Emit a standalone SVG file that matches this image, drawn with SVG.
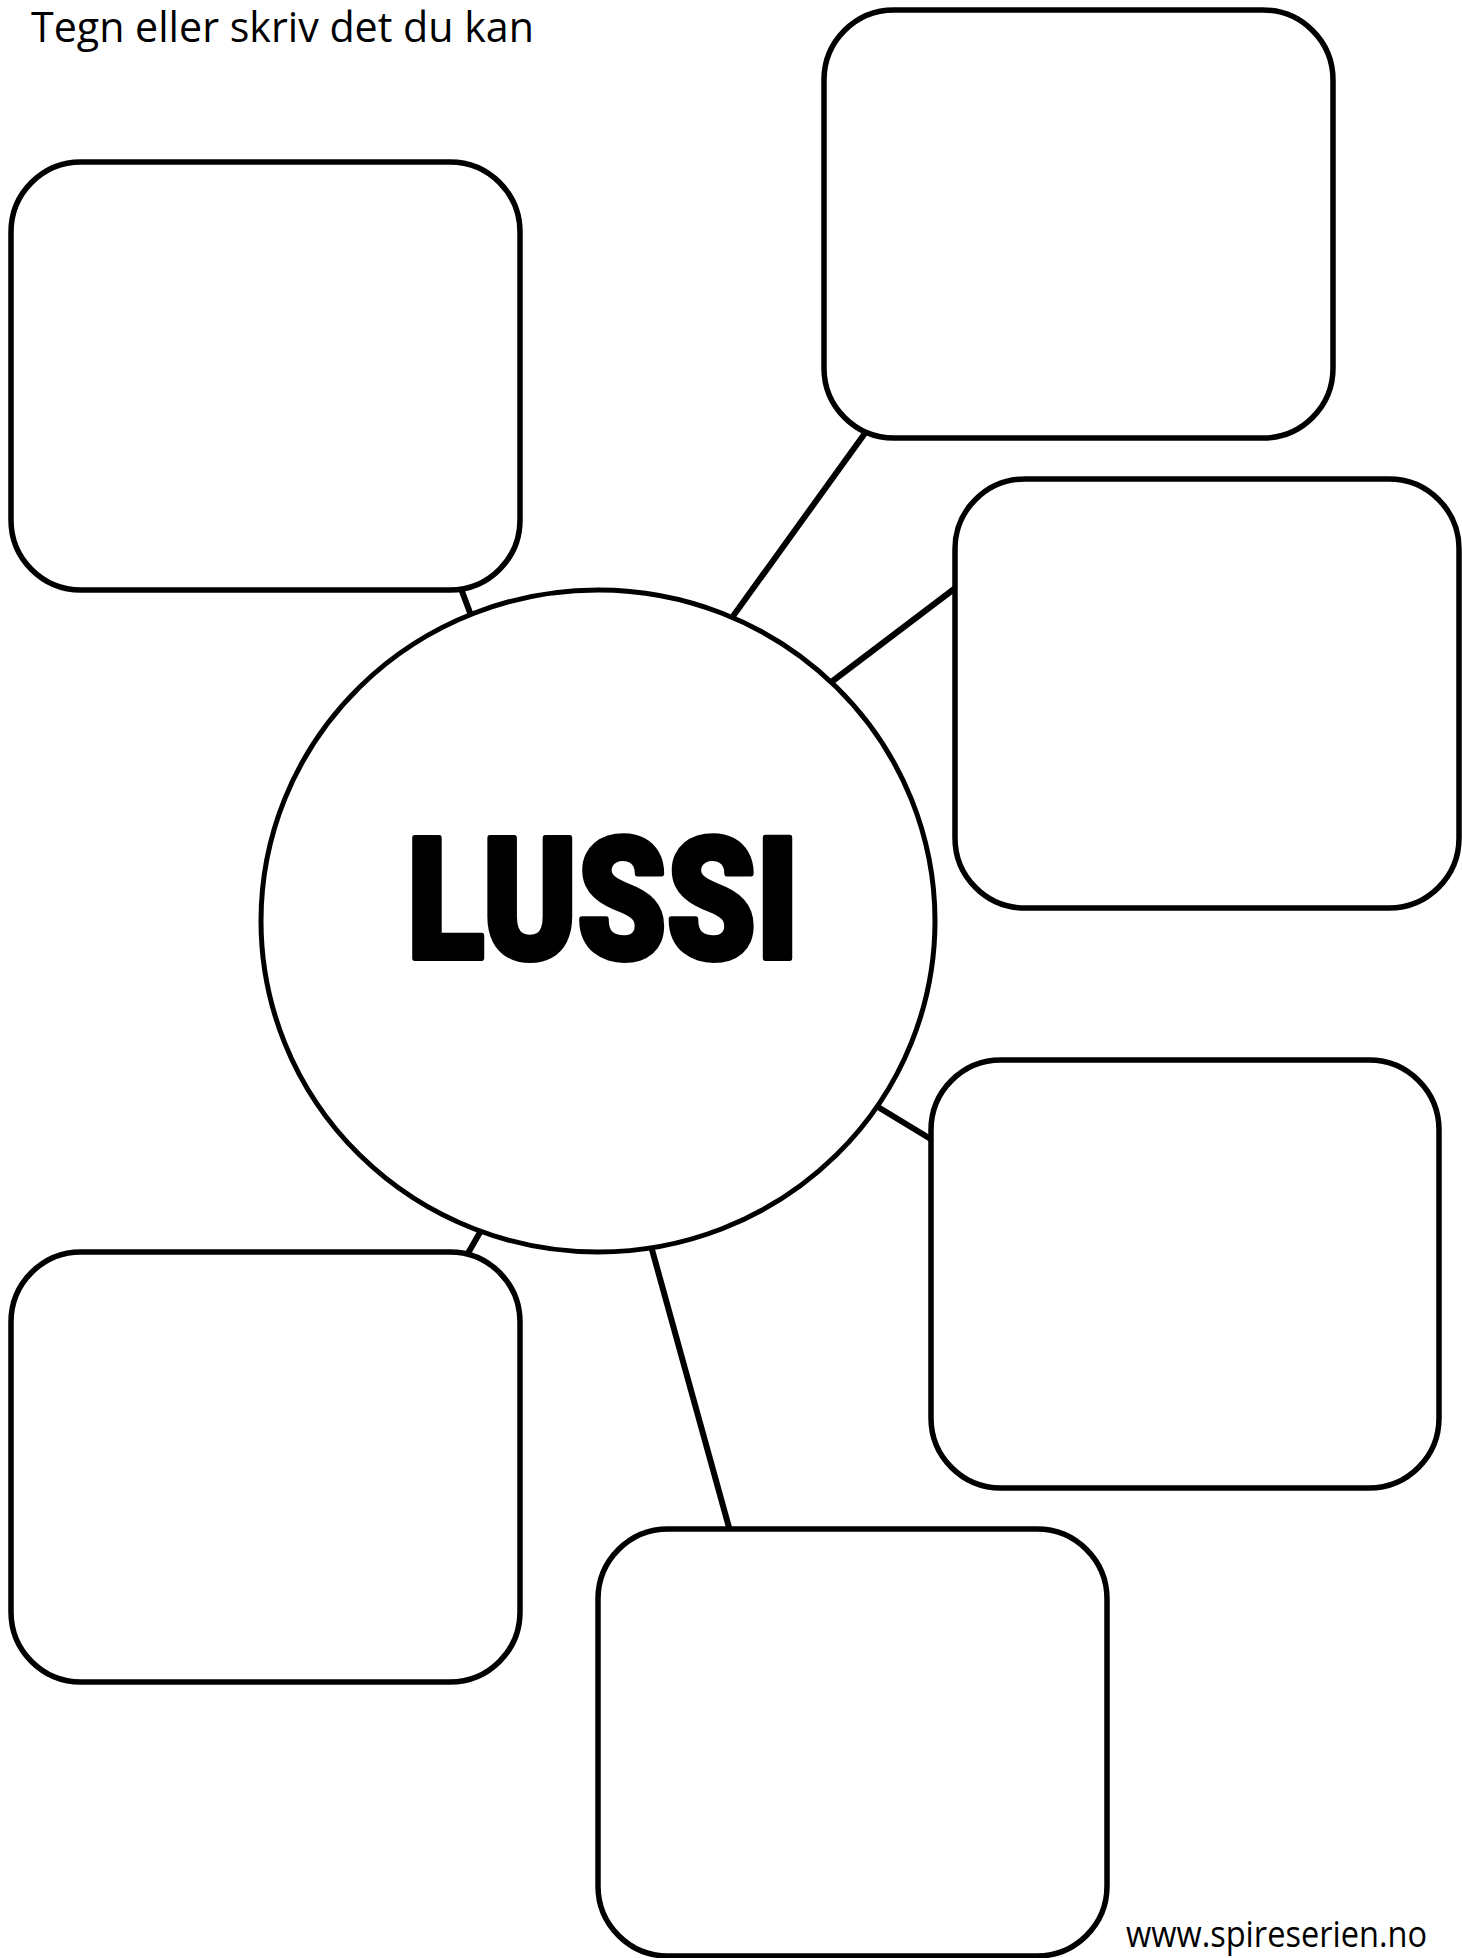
<svg xmlns="http://www.w3.org/2000/svg" width="1462" height="1958" viewBox="0 0 1462 1958">
<style>
.box{fill:#fff;stroke:#000;stroke-width:5.5}
.conn line{stroke:#000;stroke-width:6;stroke-linecap:butt}
.hub{fill:#fff;stroke:#000;stroke-width:5}
.title{font-family:"Open Sans","Liberation Sans",sans-serif;font-size:42px;fill:#000}
.foot{font-family:"Open Sans","Liberation Sans",sans-serif;font-size:36px;fill:#000}
.lussi{font-family:"Roboto","Liberation Sans",sans-serif;font-weight:900;font-size:168px;fill:#000;stroke:#000;stroke-width:6;stroke-linejoin:round}
</style>
<rect width="1462" height="1958" fill="#fff"/>
<text class="title" x="31" y="42" textLength="503" lengthAdjust="spacingAndGlyphs">Tegn eller skriv det du kan</text>
<g id="connectors" class="conn">
<line x1="460" y1="586" x2="472" y2="618"/>
<line x1="868" y1="429" x2="731" y2="619"/>
<line x1="958" y1="586" x2="830" y2="683"/>
<line x1="878" y1="1107" x2="934" y2="1141"/>
<line x1="467" y1="1255" x2="483" y2="1227"/>
<line x1="651" y1="1246" x2="730" y2="1531"/>
</g>
<g id="hub">
<ellipse class="hub" cx="598" cy="921" rx="337" ry="331"/>
<text class="lussi" x="407" y="958" textLength="392" lengthAdjust="spacingAndGlyphs">LUSSI</text>
</g>
<g id="box-top-left"><rect class="box" x="11" y="162" width="509" height="428" rx="70" ry="70"/></g>
<g id="box-top-right"><rect class="box" x="824" y="10" width="509" height="428" rx="70" ry="70"/></g>
<g id="box-mid-right"><rect class="box" x="955" y="479" width="504" height="429" rx="70" ry="70"/></g>
<g id="box-low-right"><rect class="box" x="931" y="1060" width="508" height="428" rx="70" ry="70"/></g>
<g id="box-bottom-left"><rect class="box" x="11" y="1252" width="509" height="430" rx="70" ry="70"/></g>
<g id="box-bottom"><rect class="box" x="598" y="1529" width="509" height="427" rx="70" ry="70"/></g>
<text class="foot" x="1126" y="1947" textLength="301" lengthAdjust="spacingAndGlyphs">www.spireserien.no</text>
</svg>
